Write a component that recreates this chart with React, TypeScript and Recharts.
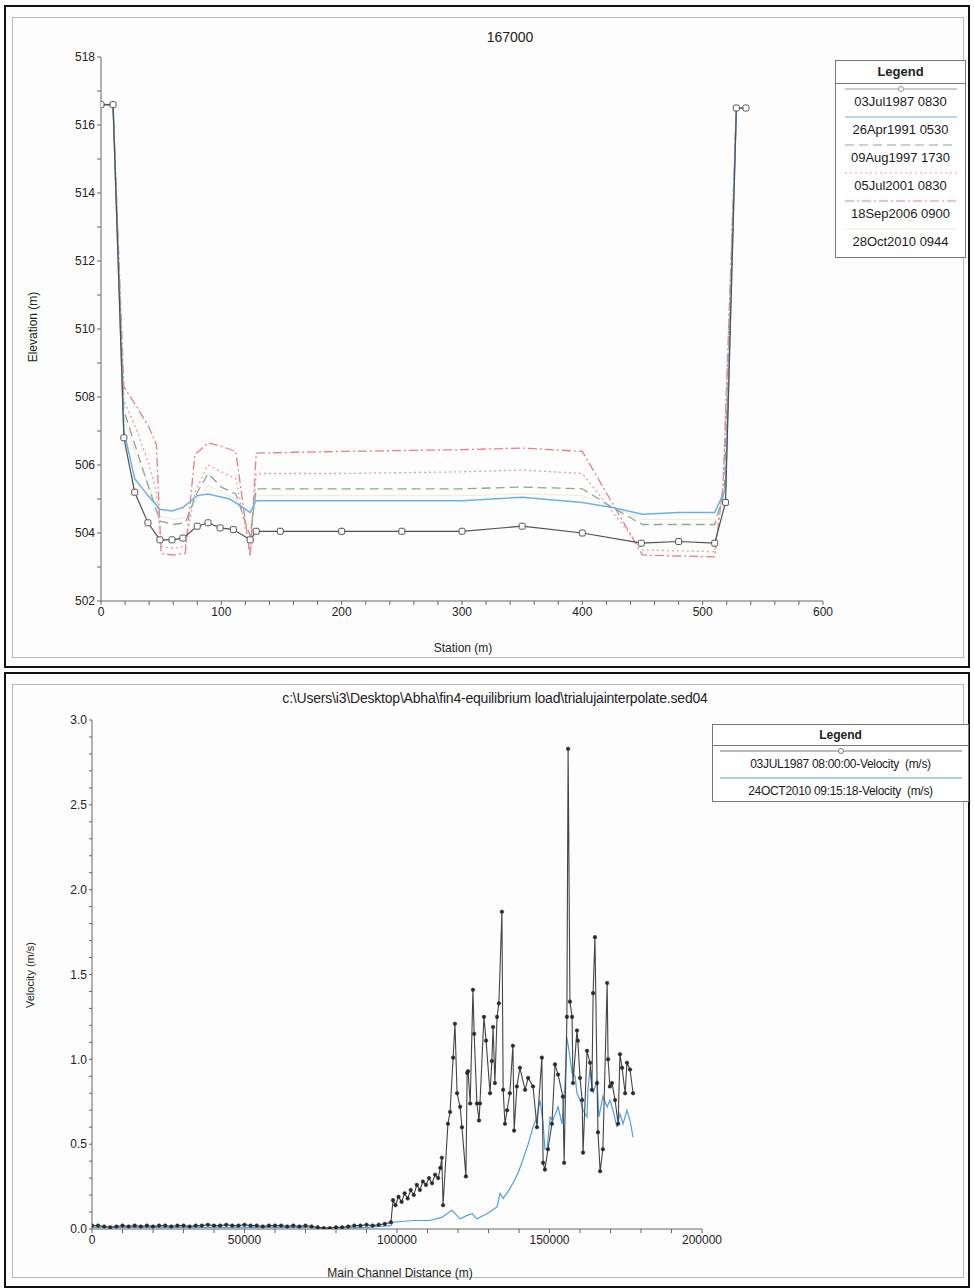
import React from 'react';
import { LineChart, Line, XAxis, YAxis } from 'recharts';

const FONT = '"Liberation Sans", Arial, sans-serif';

// ---------- top panel: cross section 167000 ----------
const profileNames = ['03Jul1987 0830', '26Apr1991 0530', '09Aug1997 1730', '05Jul2001 0830', '18Sep2006 0900', '28Oct2010 0944'];

const st1987 = [0, 10, 19, 28, 39, 49, 59, 68, 80, 89, 99, 110, 124, 129, 149, 200, 250, 300, 350, 400, 449, 480, 510, 519, 528, 536];
const el1987 = [516.6, 516.6, 506.8, 505.2, 504.3, 503.8, 503.8, 503.85, 504.2, 504.3, 504.15, 504.1, 503.8, 504.05, 504.05, 504.05, 504.05, 504.05, 504.2, 504.0, 503.7, 503.75, 503.7, 504.9, 516.5, 516.5];

const st1991 = [0, 10, 19, 28, 39, 49, 59, 68, 80, 89, 107, 116, 124, 129, 200, 300, 350, 400, 425, 450, 480, 510, 519, 528, 536];
const el1991 = [516.6, 516.6, 507.0, 505.6, 505.1, 504.7, 504.65, 504.75, 505.1, 505.15, 505.0, 504.8, 504.6, 504.95, 504.95, 504.95, 505.05, 504.9, 504.75, 504.55, 504.6, 504.6, 505.3, 516.5, 516.5];

const st1997 = [0, 10, 19, 30, 40, 49, 60, 70, 80, 89, 100, 112, 124, 129, 200, 300, 350, 400, 425, 450, 510, 518, 528, 536];
const el1997 = [516.6, 516.6, 507.6, 506.4, 505.3, 504.35, 504.25, 504.3, 505.2, 505.75, 505.35, 505.15, 503.9, 505.3, 505.3, 505.3, 505.35, 505.3, 504.75, 504.25, 504.25, 505.2, 516.5, 516.5];

const st2001 = [0, 10, 19, 30, 40, 46, 50, 60, 70, 78, 89, 100, 112, 124, 129, 200, 300, 350, 400, 450, 510, 517, 528, 536];
const el2001 = [516.6, 516.6, 507.9, 507.0, 506.0, 505.2, 503.6, 503.55, 503.6, 505.2, 506.0, 505.8, 505.6, 503.4, 505.75, 505.75, 505.8, 505.85, 505.75, 503.5, 503.45, 505.4, 516.5, 516.5];

const st2006 = [0, 10, 19, 30, 40, 46, 50, 60, 70, 78, 89, 100, 112, 124, 129, 200, 300, 350, 400, 450, 510, 517, 528, 536];
const el2006 = [516.6, 516.6, 508.3, 507.7, 507.1, 506.6, 503.4, 503.35, 503.4, 506.3, 506.65, 506.55, 506.4, 503.3, 506.35, 506.4, 506.45, 506.5, 506.4, 503.35, 503.3, 505.4, 516.5, 516.5];

const st2010 = [0, 10, 19, 30, 40, 49, 60, 70, 80, 89, 100, 112, 124, 129, 200, 300, 350, 400, 450, 510, 518, 528, 536];
const el2010 = [516.6, 516.6, 507.4, 506.2, 505.4, 504.5, 504.4, 504.45, 505.0, 505.4, 505.2, 505.0, 504.2, 505.1, 505.1, 505.1, 505.15, 505.1, 504.4, 504.4, 505.2, 516.5, 516.5];

const stationTicks = [0, 20, 40, 60, 80, 100, 120, 140, 160, 180, 200, 220, 240, 260, 280, 300, 320, 340, 360, 380, 400, 420, 440, 460, 480, 500, 520, 540, 560, 580, 600];
const elevTicks = [502, 503, 504, 505, 506, 507, 508, 509, 510, 511, 512, 513, 514, 515, 516, 517, 518];

// ---------- bottom panel: velocity profile ----------
const velNames = ['03JUL1987 08:00:00-Velocity  (m/s)', '24OCT2010 09:15:18-Velocity  (m/s)'];

const dist1987 = [
  0, 2000, 4000, 6000, 8000, 10000, 12000, 14000, 16000, 18000, 20000, 22000, 24000, 26000, 28000, 30000, 32000, 34000, 36000, 38000,
  40000, 42000, 44000, 46000, 48000, 50000, 52000, 54000, 56000, 58000, 60000, 62000, 64000, 66000, 68000, 70000, 72000, 74000, 76000, 78000,
  80000, 82000, 84000, 86000, 88000, 90000, 92000, 94000, 96000, 98000,
  98700, 99500, 100500, 101500, 102500, 103500, 104500, 105500, 106500, 107500, 108500, 109500, 110500, 111500, 112500, 113500, 114200, 114700,
  115100, 116700, 117400, 118400, 119000, 119700, 120700, 121300, 122600, 123000, 123300, 124000, 124900, 125300, 126200, 126900, 127200,
  128500, 129200, 130500, 131100, 131500, 132100, 132800, 133400, 134400, 134800, 135400, 136100, 137000, 138000, 138400, 139300, 140300,
  142000, 143000, 144600, 145900, 147500, 147900, 148500, 149500, 150800, 151800, 152800, 154400, 154800, 155700, 156100, 156700, 157400,
  157700, 159000, 159300, 160000, 160700, 161000, 162300, 163300, 163900, 164300, 164900, 165600, 165900, 166600, 167500, 168900, 169200,
  169800, 170500, 171500, 172500, 173100, 173800, 174800, 175400, 176400, 177400,
];
const vel1987 = [
  0.02, 0.02, 0.015, 0.01, 0.015, 0.02, 0.015, 0.02, 0.015, 0.02, 0.015, 0.02, 0.02, 0.015, 0.02, 0.02, 0.015, 0.02, 0.02, 0.025,
  0.02, 0.02, 0.025, 0.02, 0.02, 0.025, 0.02, 0.02, 0.015, 0.02, 0.02, 0.02, 0.015, 0.02, 0.015, 0.02, 0.015, 0.01, 0.005, 0.005,
  0.01, 0.01, 0.015, 0.02, 0.02, 0.025, 0.02, 0.025, 0.03, 0.04,
  0.17, 0.14, 0.19, 0.16, 0.21, 0.18, 0.23, 0.2, 0.26, 0.23, 0.28, 0.26, 0.3, 0.27, 0.32, 0.3, 0.36, 0.42,
  0.14, 0.62, 0.69, 1.01, 1.21, 0.8, 0.72, 0.6, 0.31, 0.92, 0.93, 0.74, 1.41, 1.15, 0.74, 0.64, 0.74,
  1.25, 1.11, 0.8, 0.99, 1.19, 0.86, 1.25, 1.33, 1.87, 0.82, 0.62, 0.7, 0.8, 1.08, 0.58, 0.84, 0.95,
  0.82, 0.89, 0.84, 0.6, 1.01, 0.39, 0.35, 0.47, 0.62, 0.97, 0.91, 0.78, 0.39, 1.25, 2.83, 1.34, 1.25,
  0.86, 1.17, 1.11, 0.89, 0.76, 0.45, 1.05, 0.98, 0.82, 1.39, 1.72, 0.86, 0.57, 0.34, 0.47, 1.45, 1.0,
  0.84, 0.86, 0.76, 0.62, 1.03, 0.95, 0.8, 0.98, 0.94, 0.8,
];

const dist2010 = [
  0, 10000, 20000, 30000, 40000, 50000, 60000, 70000, 80000, 90000, 98000, 98700, 105200, 110800, 114800, 118000, 120700, 123000, 124600,
  126200, 129500, 132800, 133800, 134800, 136400, 138000, 139700, 141300, 143000, 144600, 145900, 146900, 147900, 148500, 149200, 150200,
  151100, 152800, 154100, 155100, 155700, 156400, 157400, 158400, 159000, 160000, 161000, 162300, 162600, 163300, 164300, 165600, 166200,
  167500, 168900, 169800, 170800, 172100, 173100, 174100, 175400, 176400, 177400,
];
const vel2010 = [
  0.01, 0.01, 0.01, 0.01, 0.01, 0.01, 0.01, 0.01, 0.005, 0.01, 0.02, 0.04, 0.05, 0.05, 0.07, 0.11, 0.06, 0.08, 0.09,
  0.06, 0.09, 0.13, 0.21, 0.18, 0.22, 0.27, 0.33, 0.41, 0.5, 0.6, 0.66, 0.76, 0.62, 0.47, 0.47, 0.66,
  0.64, 0.72, 0.62, 0.86, 1.13, 1.05, 0.92, 0.9, 0.8, 0.76, 0.7, 0.66, 0.82, 0.95, 0.8, 0.88, 0.66,
  0.78, 0.72, 0.76, 0.7, 0.6, 0.68, 0.62, 0.7, 0.64, 0.54,
];

const distTicks = [0, 10000, 20000, 30000, 40000, 50000, 60000, 70000, 80000, 90000, 100000, 110000, 120000, 130000, 140000, 150000, 160000, 170000, 180000, 190000, 200000];
const velTicks = [0, 0.1, 0.2, 0.3, 0.4, 0.5, 0.6, 0.7, 0.8, 0.9, 1.0, 1.1, 1.2, 1.3, 1.4, 1.5, 1.6, 1.7, 1.8, 1.9, 2.0, 2.1, 2.2, 2.3, 2.4, 2.5, 2.6, 2.7, 2.8, 2.9, 3.0];

const zip = (xs: number[], ys: number[]) => xs.map((x, i) => ({ x, y: ys[i] }));

const profiles = [
  { name: profileNames[0], data: zip(st1987, el1987), color: '#505050', dash: undefined, width: 1.2, marker: true },
  { name: profileNames[1], data: zip(st1991, el1991), color: '#6db0e4', dash: undefined, width: 1.5, marker: false },
  { name: profileNames[2], data: zip(st1997, el1997), color: '#8fa793', dash: '9 5', width: 1.3, marker: false },
  { name: profileNames[3], data: zip(st2001, el2001), color: '#eb9aa4', dash: '2 3', width: 1.3, marker: false },
  { name: profileNames[4], data: zip(st2006, el2006), color: '#e77f88', dash: '9 3 2 3', width: 1.3, marker: false },
  { name: profileNames[5], data: zip(st2010, el2010), color: '#f1ebd2', dash: undefined, width: 1, marker: false },
];

const velSeries = [
  { name: velNames[0], data: zip(dist1987, vel1987), color: '#444444' },
  { name: velNames[1], data: zip(dist2010, vel2010), color: '#4f9fe0' },
];

const tickStyle = { fontFamily: FONT, fontSize: 12, fill: '#222' };

function makeTick(isMajor: (v: number) => boolean, fmt: (v: number) => string, anchor: 'middle' | 'end', dy: string) {
  return (props: any) => {
    const { x, y, payload } = props;
    if (!isMajor(payload.value)) return <g />;
    return (
      <text x={x} y={y} dy={dy} textAnchor={anchor} style={tickStyle}>{fmt(payload.value)}</text>
    );
  };
}

const squareDot = (p: any) => (
  <rect key={`sq${p.index}`} x={p.cx - 3} y={p.cy - 3} width={6} height={6} rx={1.5} fill="#fbfbfb" stroke="#555" strokeWidth={1} />
);

function Frame({ top, height }: { top: number; height: number }) {
  return (
    <>
      <div style={{ position: 'absolute', left: 4, top, width: 966, height, border: '2px solid #111', boxSizing: 'border-box', background: '#fdfdfd' }} />
      <div style={{ position: 'absolute', left: 12, top: top + 12, width: 952, height: height - 22, border: '1px solid #b8b8b8', boxSizing: 'border-box' }} />
    </>
  );
}

function Sample({ color, dash, width, marker, w }: { color: string; dash?: string; width: number; marker?: boolean; w: number }) {
  return (
    <svg width={w} height={10} style={{ display: 'block', margin: '0 auto' }}>
      <line x1={4} y1={5} x2={w - 4} y2={5} stroke={color} strokeWidth={width} strokeDasharray={dash} />
      {marker && <circle cx={w / 2} cy={5} r={2.5} fill="#fff" stroke={color} strokeWidth={1} />}
    </svg>
  );
}

export default function App() {
  return (
    <div style={{ position: 'absolute', left: 0, top: 0, width: 974, height: 1288, background: '#fff', fontFamily: FONT, overflow: 'hidden' }}>
      <Frame top={5} height={663} />
      <Frame top={672} height={616} />

      {/* top chart */}
      <div style={{ position: 'absolute', left: 510, top: 37, transform: 'translate(-50%, -50%)', fontSize: 14, color: '#222', whiteSpace: 'nowrap' }}>167000</div>
      <div style={{ position: 'absolute', left: 0, top: 0 }}>
        <LineChart width={974} height={665} margin={{ top: 57, right: 151, bottom: 34, left: 41 }}>
          <XAxis type="number" dataKey="x" domain={[0, 600]} ticks={stationTicks} interval={0} allowDataOverflow
            stroke="#666" tickSize={4} height={30} tick={makeTick((v) => v % 100 === 0, (v) => String(v), 'middle', '0.71em')} />
          <YAxis type="number" dataKey="y" domain={[502, 518]} ticks={elevTicks} interval={0} allowDataOverflow
            stroke="#666" tickSize={4} width={60} tick={makeTick((v) => v % 2 === 0, (v) => String(v), 'end', '0.35em')} />
          {profiles.slice().reverse().map((s) => (
            <Line key={s.name} data={s.data} dataKey="y" name={s.name} type="linear" stroke={s.color} strokeWidth={s.width}
              strokeDasharray={s.dash} dot={s.marker ? squareDot : false} activeDot={false} isAnimationActive={false} />
          ))}
        </LineChart>
      </div>
      <div style={{ position: 'absolute', left: 33, top: 327, transform: 'translate(-50%, -50%) rotate(-90deg)', fontSize: 12, color: '#222', whiteSpace: 'nowrap' }}>Elevation (m)</div>
      <div style={{ position: 'absolute', left: 463, top: 648, transform: 'translate(-50%, -50%)', fontSize: 12, color: '#222', whiteSpace: 'nowrap' }}>Station (m)</div>

      {/* top legend */}
      <div style={{ position: 'absolute', left: 835, top: 60, width: 131, height: 198, border: '1px solid #777', boxSizing: 'border-box', background: '#fff' }}>
        <div style={{ height: 22, borderBottom: '1px solid #777', textAlign: 'center', fontWeight: 'bold', fontSize: 13, lineHeight: '22px', color: '#222' }}>Legend</div>
        {profiles.map((s) => (
          <div key={s.name} style={{ height: 28 }}>
            <Sample color={s.name === profileNames[0] ? '#999' : s.color} dash={s.dash} width={1} marker={s.marker} w={120} />
            <div style={{ textAlign: 'center', fontSize: 13, lineHeight: '16px', color: '#1a1a1a', whiteSpace: 'nowrap' }}>{s.name}</div>
          </div>
        ))}
      </div>

      {/* bottom chart */}
      <div style={{ position: 'absolute', left: 495, top: 698, transform: 'translate(-50%, -50%)', fontSize: 14, color: '#222', whiteSpace: 'nowrap', letterSpacing: -0.2 }}>
        {'c:\\Users\\i3\\Desktop\\Abha\\fin4-equilibrium load\\trialujainterpolate.sed04'}
      </div>
      <div style={{ position: 'absolute', left: 0, top: 672 }}>
        <LineChart width={974} height={616} margin={{ top: 48, right: 272, bottom: 29, left: 42 }}>
          <XAxis type="number" dataKey="x" domain={[0, 200000]} ticks={distTicks} interval={0} allowDataOverflow
            stroke="#666" tickSize={4} height={30} tick={makeTick((v) => v % 50000 === 0, (v) => String(v), 'middle', '0.71em')} />
          <YAxis type="number" dataKey="y" domain={[0, 3]} ticks={velTicks} interval={0} allowDataOverflow
            stroke="#666" tickSize={3} width={50} tick={makeTick((v) => Math.round(v * 10) % 5 === 0, (v) => v.toFixed(1), 'end', '0.35em')} />
          <Line data={velSeries[1].data} dataKey="y" name={velSeries[1].name} type="linear" stroke={velSeries[1].color} strokeWidth={1.2}
            dot={false} activeDot={false} isAnimationActive={false} />
          <Line data={velSeries[0].data} dataKey="y" name={velSeries[0].name} type="linear" stroke={velSeries[0].color} strokeWidth={1.1}
            dot={{ r: 1.8, fill: '#2a2a2a', stroke: '#2a2a2a', strokeWidth: 0.5 }} activeDot={false} isAnimationActive={false} />
        </LineChart>
      </div>
      <div style={{ position: 'absolute', left: 30, top: 975, transform: 'translate(-50%, -50%) rotate(-90deg)', fontSize: 11, color: '#222', whiteSpace: 'nowrap' }}>Velocity (m/s)</div>
      <div style={{ position: 'absolute', left: 400, top: 1273, transform: 'translate(-50%, -50%)', fontSize: 12, color: '#222', whiteSpace: 'nowrap' }}>Main Channel Distance (m)</div>

      {/* bottom legend */}
      <div style={{ position: 'absolute', left: 712, top: 724, width: 257, height: 78, border: '1px solid #777', boxSizing: 'border-box', background: '#fff' }}>
        <div style={{ height: 20, borderBottom: '1px solid #777', textAlign: 'center', fontWeight: 'bold', fontSize: 12, lineHeight: '20px', color: '#222' }}>Legend</div>
        {velSeries.map((s, i) => (
          <div key={s.name} style={{ height: 27 }}>
            <Sample color={i === 0 ? '#777' : s.color} width={1} marker={i === 0} w={250} />
            <div style={{ textAlign: 'center', fontSize: 12, lineHeight: '16px', color: '#1a1a1a', whiteSpace: 'pre', letterSpacing: -0.3 }}>{s.name}</div>
          </div>
        ))}
      </div>
    </div>
  );
}
